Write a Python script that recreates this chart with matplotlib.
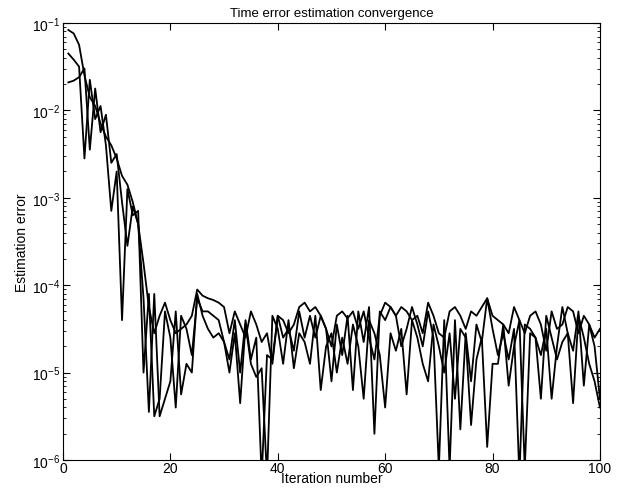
import numpy as np
import matplotlib
matplotlib.use("Agg")
import matplotlib.pyplot as plt
from matplotlib.ticker import LogLocator, NullFormatter

plt.rcParams["font.family"] = ["Liberation Sans", "DejaVu Sans"]
plt.rcParams["mathtext.default"] = "regular"

# log10 of estimation error for three runs, iterations 1..100
log_err_a = [
    -1.08, -1.12, -1.25, -1.6, -1.85, -1.95, -2.15, -2.3, -2.4, -2.55,
    -2.75, -2.85, -3.05, -3.3, -3.75, -4.25, -4.55, -4.35, -4.2, -4.4,
    -4.55, -4.5, -4.45, -4.35, -4.05, -4.12, -4.15, -4.17, -4.2, -4.25,
    -4.55, -4.3, -4.45, -4.6, -4.3, -4.45, -4.65, -4.55, -4.9, -4.35,
    -4.4, -4.55, -4.45, -4.25, -4.2, -4.3, -4.25, -4.35, -4.5, -4.7,
    -4.35, -4.3, -4.38, -4.3, -4.5, -4.3, -4.6, -4.85, -4.35, -4.2,
    -4.25, -4.35, -4.25, -4.3, -4.4, -4.35, -4.55, -4.2, -4.35, -4.55,
    -4.6, -4.3, -4.25, -4.35, -4.5, -4.3, -4.35, -4.25, -4.15, -4.35,
    -4.4, -4.45, -4.55, -4.25, -4.4, -4.55, -4.35, -4.3, -4.45, -4.75,
    -4.3, -4.5, -4.45, -4.25, -4.3, -4.55, -4.35, -4.45, -4.6, -4.5,
]
log_err_b = [
    -1.35, -1.42, -1.5, -2.55, -1.65, -2.1, -1.95, -2.4, -3.15, -2.7,
    -4.4, -2.9, -3.2, -3.15, -5.0, -4.1, -5.5, -5.3, -4.3, -4.6,
    -5.4, -4.35, -4.5, -4.8, -4.15, -4.3, -4.3, -4.35, -4.4, -4.65,
    -4.85, -4.4, -5.0, -4.4, -4.85, -4.6, -6.2, -4.8, -4.85, -4.35,
    -4.6, -4.5, -4.75, -4.3, -4.6, -4.35, -4.6, -4.35, -4.5, -5.1,
    -4.45, -4.8, -4.35, -5.2, -4.3, -4.65, -4.25, -5.7, -4.3, -4.4,
    -4.25, -4.35, -4.7, -4.5, -4.25, -4.45, -4.7, -4.3, -4.6, -6.1,
    -4.4, -6.1, -4.4, -5.65, -4.55, -5.1, -4.45, -4.65, -4.15, -4.5,
    -4.8, -4.55, -4.85, -4.5, -6.2, -4.45, -4.5, -4.6, -4.8, -4.5,
    -5.3, -4.7, -4.25, -4.55, -4.75, -4.3, -5.15, -4.45, -4.7, -5.3,
]
log_err_c = [
    -1.68, -1.66, -1.62, -1.52, -2.45, -1.75, -2.25, -2.05, -2.6, -2.5,
    -3.05, -3.55, -3.1, -3.3, -4.15, -5.45, -4.1, -5.5, -5.3, -5.1,
    -4.3, -5.25, -4.9, -5.0, -4.1, -4.35, -4.5, -4.6, -4.55, -4.65,
    -5.0, -4.55, -5.35, -4.45, -4.9, -5.05, -4.95, -6.2, -4.35, -4.5,
    -4.9, -4.4, -4.95, -4.55, -4.65, -4.9, -4.35, -5.2, -4.7, -4.55,
    -5.0, -4.6, -4.9, -4.45, -4.7, -5.3, -4.4, -4.55, -4.8, -5.4,
    -4.55, -4.75, -4.5, -5.25, -4.4, -4.6, -4.9, -5.1, -4.45, -4.7,
    -5.0, -4.55, -5.3, -4.5, -4.6, -5.6, -4.85, -4.6, -5.85, -4.9,
    -4.9, -4.45, -5.15, -4.7, -4.4, -6.1, -4.55, -4.6, -5.3, -4.35,
    -4.6, -4.85, -4.65, -4.55, -5.35, -4.35, -4.6, -4.9, -5.1, -5.4,
]

iterations = np.arange(1, 101)

fig = plt.figure(figsize=(6.21, 4.89), dpi=100)
ax = fig.add_axes([0.1014, 0.0573, 0.8647, 0.8937])

for series in (log_err_a, log_err_b, log_err_c):
    ax.semilogy(iterations, 10.0 ** np.array(series), color="black", lw=1.3)

ax.set_xlim(0, 100)
ax.set_ylim(1e-6, 1e-1)
ax.set_xticks([0, 20, 40, 60, 80, 100])
ax.yaxis.set_major_locator(LogLocator(base=10, numticks=10))
ax.yaxis.set_minor_locator(LogLocator(base=10, subs=np.arange(2, 10), numticks=20))
ax.yaxis.set_minor_formatter(NullFormatter())

ax.tick_params(which="both", direction="in", top=True, right=True, labelsize=10)
ax.tick_params(axis="x", pad=1)
ax.tick_params(axis="y", pad=2)
ax.tick_params(which="major", length=5)
ax.tick_params(which="minor", length=2.5)
for s in ax.spines.values():
    s.set_linewidth(0.8)

ax.set_title("Time error estimation convergence", fontsize=9.5, pad=5)
ax.set_xlabel("Iteration number", fontsize=10)
ax.xaxis.set_label_coords(0.5, -0.026)
ax.set_ylabel("Estimation error", fontsize=10, labelpad=2)

fig.savefig("out.png", dpi=100)
